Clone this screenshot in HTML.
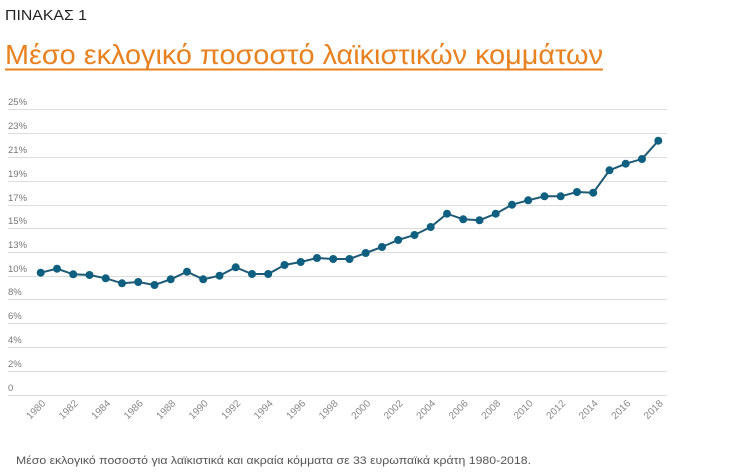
<!DOCTYPE html>
<html><head><meta charset="utf-8"><style>
html,body{margin:0;padding:0;background:#fff;width:735px;height:474px;overflow:hidden}
svg{display:block;font-family:"Liberation Sans","DejaVu Sans",sans-serif}
</style></head><body>
<svg width="735" height="474" viewBox="0 0 735 474" xmlns="http://www.w3.org/2000/svg">
<text x="5" y="20" font-size="15" fill="#222" textLength="82" lengthAdjust="spacingAndGlyphs">ΠΙΝΑΚΑΣ 1</text>
<text x="5" y="64" font-size="28" fill="#E8811F" textLength="598" lengthAdjust="spacingAndGlyphs">Μέσο εκλογικό ποσοστό λαϊκιστικών κομμάτων</text>
<rect x="5" y="68.5" width="598" height="2" fill="#E8811F"/>
<g stroke="#dcdcdc" stroke-width="1">
<line x1="8" x2="667" y1="109.5" y2="109.5"/><line x1="8" x2="667" y1="133.5" y2="133.5"/>
<line x1="8" x2="667" y1="157.5" y2="157.5"/><line x1="8" x2="667" y1="181.5" y2="181.5"/>
<line x1="8" x2="667" y1="205.5" y2="205.5"/><line x1="8" x2="667" y1="228.5" y2="228.5"/>
<line x1="8" x2="667" y1="252.5" y2="252.5"/><line x1="8" x2="667" y1="276.5" y2="276.5"/>
<line x1="8" x2="667" y1="299.5" y2="299.5"/><line x1="8" x2="667" y1="323.5" y2="323.5"/>
<line x1="8" x2="667" y1="347.5" y2="347.5"/><line x1="8" x2="667" y1="371.5" y2="371.5"/>
<line x1="8" x2="667" y1="395.5" y2="395.5"/>
</g>
<g font-size="9.5" fill="#777">
<text x="8" y="105">25%</text><text x="8" y="129">23%</text><text x="8" y="153">21%</text>
<text x="8" y="177">19%</text><text x="8" y="201">17%</text><text x="8" y="224">15%</text>
<text x="8" y="248">13%</text><text x="8" y="272">10%</text><text x="8" y="295">8%</text>
<text x="8" y="319">6%</text><text x="8" y="343">4%</text><text x="8" y="367">2%</text>
<text x="8" y="391">0</text>
</g>
<g font-size="10" fill="#888" text-anchor="end">
<text transform="translate(46,404) rotate(-45)">1980</text>
<text transform="translate(78.5,404) rotate(-45)">1982</text>
<text transform="translate(111,404) rotate(-45)">1984</text>
<text transform="translate(143.5,404) rotate(-45)">1986</text>
<text transform="translate(176,404) rotate(-45)">1988</text>
<text transform="translate(208.5,404) rotate(-45)">1990</text>
<text transform="translate(241,404) rotate(-45)">1992</text>
<text transform="translate(273.5,404) rotate(-45)">1994</text>
<text transform="translate(306,404) rotate(-45)">1996</text>
<text transform="translate(338.5,404) rotate(-45)">1998</text>
<text transform="translate(371,404) rotate(-45)">2000</text>
<text transform="translate(403.5,404) rotate(-45)">2002</text>
<text transform="translate(436,404) rotate(-45)">2004</text>
<text transform="translate(468.5,404) rotate(-45)">2006</text>
<text transform="translate(501,404) rotate(-45)">2008</text>
<text transform="translate(533.5,404) rotate(-45)">2010</text>
<text transform="translate(566,404) rotate(-45)">2012</text>
<text transform="translate(598.5,404) rotate(-45)">2014</text>
<text transform="translate(631,404) rotate(-45)">2016</text>
<text transform="translate(663.5,404) rotate(-45)">2018</text>
</g>
<polyline fill="none" stroke="#1f5a74" stroke-width="2" points="40.7,272.7 57,268.7 73.2,274.3 89.5,275 105.7,278.3 122,283.3 138.2,282 154.5,285 170.7,279.3 187,271.7 203.2,279.3 219.5,275.7 235.7,267.3 252,274 268.2,274 284.5,265 300.7,262 317,258 333.2,259 349.5,259 365.7,253 382,247 398.2,240 414.5,235 430.7,227 447,213.7 463.2,219.3 479.5,220.3 495.7,213.7 512,204.7 528.2,200.3 544.5,196.3 560.7,196.3 577,192 593.2,192.7 609.5,170.3 625.7,163.7 642,159 658.3,140.7"/>
<g fill="#0f5f80">
<circle cx="40.7" cy="272.7" r="4"/><circle cx="57" cy="268.7" r="4"/><circle cx="73.2" cy="274.3" r="4"/><circle cx="89.5" cy="275" r="4"/><circle cx="105.7" cy="278.3" r="4"/><circle cx="122" cy="283.3" r="4"/><circle cx="138.2" cy="282" r="4"/><circle cx="154.5" cy="285" r="4"/><circle cx="170.7" cy="279.3" r="4"/><circle cx="187" cy="271.7" r="4"/><circle cx="203.2" cy="279.3" r="4"/><circle cx="219.5" cy="275.7" r="4"/><circle cx="235.7" cy="267.3" r="4"/><circle cx="252" cy="274" r="4"/><circle cx="268.2" cy="274" r="4"/><circle cx="284.5" cy="265" r="4"/><circle cx="300.7" cy="262" r="4"/><circle cx="317" cy="258" r="4"/><circle cx="333.2" cy="259" r="4"/><circle cx="349.5" cy="259" r="4"/><circle cx="365.7" cy="253" r="4"/><circle cx="382" cy="247" r="4"/><circle cx="398.2" cy="240" r="4"/><circle cx="414.5" cy="235" r="4"/><circle cx="430.7" cy="227" r="4"/><circle cx="447" cy="213.7" r="4"/><circle cx="463.2" cy="219.3" r="4"/><circle cx="479.5" cy="220.3" r="4"/><circle cx="495.7" cy="213.7" r="4"/><circle cx="512" cy="204.7" r="4"/><circle cx="528.2" cy="200.3" r="4"/><circle cx="544.5" cy="196.3" r="4"/><circle cx="560.7" cy="196.3" r="4"/><circle cx="577" cy="192" r="4"/><circle cx="593.2" cy="192.7" r="4"/><circle cx="609.5" cy="170.3" r="4"/><circle cx="625.7" cy="163.7" r="4"/><circle cx="642" cy="159" r="4"/><circle cx="658.3" cy="140.7" r="4"/>
</g>
<text x="16" y="464" font-size="11" fill="#555" textLength="515" lengthAdjust="spacingAndGlyphs">Μέσο εκλογικό ποσοστό για λαϊκιστικά και ακραία κόμματα σε 33 ευρωπαϊκά κράτη 1980-2018.</text>
</svg>
</body></html>
